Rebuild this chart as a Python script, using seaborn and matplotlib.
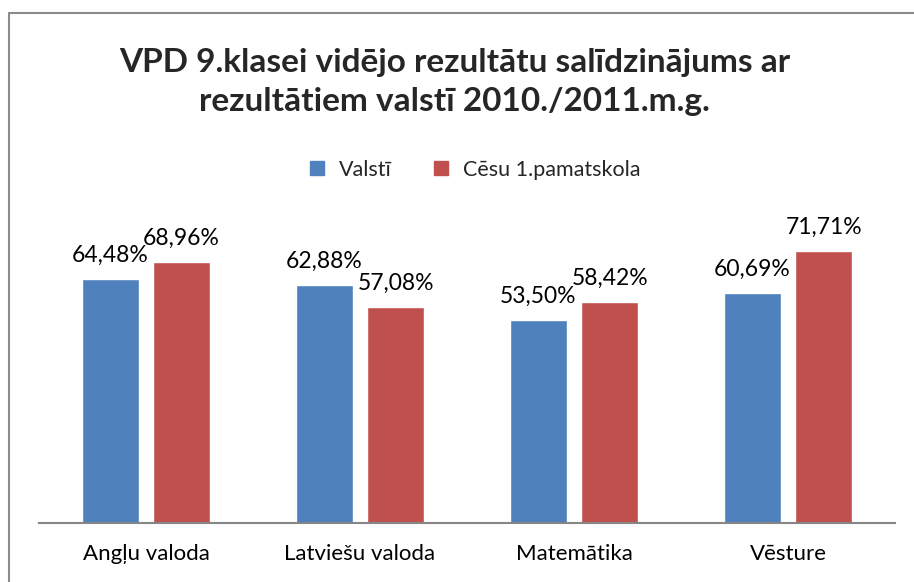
import matplotlib

matplotlib.use("Agg")
import matplotlib.pyplot as plt
import pandas as pd
import seaborn as sns
from matplotlib.lines import Line2D

subjects = ["Angļu valoda", "Latviešu valoda", "Matemātika", "Vēsture"]
series = ["Valstī", "Cēsu 1.pamatskola"]
valsti = [64.48, 62.88, 53.50, 60.69]
cesu = [68.96, 57.08, 58.42, 71.71]
colors = ["#4F81BD", "#C0504D"]

sns.set_theme(style="white")
plt.rcParams["font.family"] = ["Lato", "DejaVu Sans"]

df = pd.DataFrame({
    "subject": subjects * 2,
    "series": [series[0]] * 4 + [series[1]] * 4,
    "value": valsti + cesu,
})

fig = plt.figure(figsize=(9.14, 5.82), dpi=100)
ax = fig.add_axes([39 / 914, 1 - 523 / 582, (895 - 39) / 914, (523 - 220) / 582])

sns.barplot(data=df, x="subject", y="value", hue="series", order=subjects,
            hue_order=series, palette=colors, width=0.667, gap=0.2,
            saturation=1, legend=False, ax=ax)

for cont in ax.containers:
    labels = [f"{b.get_height():.2f}".replace(".", ",") + "%" for b in cont]
    ax.bar_label(cont, labels=labels, padding=9.5, fontsize=16.5, color="black")

ax.set_ylim(0, 80)
ax.set_xlim(-0.5, 3.5)
ax.set_xlabel("")
ax.set_ylabel("")
ax.set_yticks([])
ax.tick_params(axis="x", length=0, pad=15, labelsize=16, colors="black")
for side in ["left", "right", "top"]:
    ax.spines[side].set_visible(False)
ax.spines["bottom"].set_color("#868686")
ax.spines["bottom"].set_linewidth(1.5)

fig.text(0.497, 1 - 82 / 582, "VPD 9.klasei vidējo rezultātu salīdzinājums ar\nrezultātiem valstī 2010./2011.m.g.",
         ha="center", va="center", fontsize=24, fontweight="bold", linespacing=1.42)

handles = [Line2D([], [], marker="s", linestyle="", markersize=10, color=c) for c in colors]
fig.legend(handles, series, loc="center", bbox_to_anchor=(468 / 914, 1 - 170 / 582), ncol=2,
           frameon=False, fontsize=15.5, handletextpad=0.0, columnspacing=1.3)

fig.add_artist(Line2D([9 / 914, 9 / 914], [0, 1 - 13 / 582], color="#8c8c8c", lw=1.5, transform=fig.transFigure))
fig.add_artist(Line2D([9 / 914, 1], [1 - 13 / 582, 1 - 13 / 582], color="#8c8c8c", lw=1.5, transform=fig.transFigure))

fig.savefig("out.png", dpi=100)
